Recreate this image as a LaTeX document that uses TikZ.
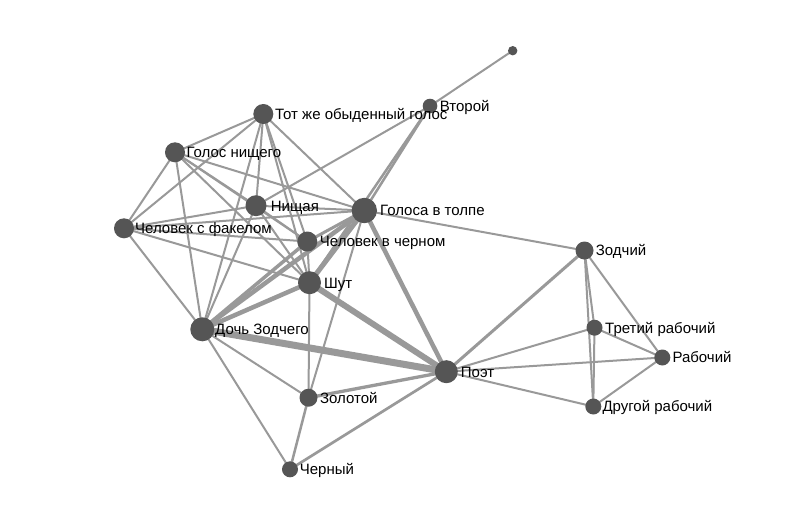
\documentclass[tikz,border=0pt]{standalone}
\usepackage{fontspec}
\setmainfont{Liberation Sans}
\pgfdeclarelayer{bg}
\pgfdeclarelayer{edges}
\pgfsetlayers{bg,edges,main}
\definecolor{edgegray}{RGB}{153,153,153}
\definecolor{nodegray}{RGB}{85,85,85}
\tikzset{
  pt/.style={circle,fill=nodegray,draw=none,inner sep=0pt,minimum size=#1},
  lbl/.style={anchor=west,inner sep=0pt,text height=10.7pt,text depth=0pt,
    font=\fontsize{15}{18}\selectfont,text=black},
  edge/.style={draw=edgegray,line width=#1},
  edge/.default=2pt
}
\begin{document}
\begin{tikzpicture}[x=1pt,y=-1pt]
\begin{pgfonlayer}{bg}
\fill[white] (0,0) rectangle (788,517);
\end{pgfonlayer}
\useasboundingbox (0,0) rectangle (788,517);
% nodes
\node[pt=9.4pt]  (x)     at (512.7,50.7) {};
\node[pt=14.6pt] (vtor)  at (430,106) {};
\node[pt=20pt]   (tot)   at (263.3,114) {};
\node[pt=20pt]   (gn)    at (175,152.3) {};
\node[pt=21pt]   (nish)  at (256,205.7) {};
\node[pt=25.4pt] (gol)   at (364.3,210.5) {};
\node[pt=20pt]   (fak)   at (124,228.3) {};
\node[pt=20pt]   (cher)  at (307.3,241.5) {};
\node[pt=23pt]   (shut)  at (309.5,282.7) {};
\node[pt=24pt]   (doch)  at (202.3,329.3) {};
\node[pt=23pt]   (poet)  at (446.3,371.7) {};
\node[pt=18pt]   (zol)   at (308.5,397.7) {};
\node[pt=16pt]   (chern) at (290,469.3) {};
\node[pt=18pt]   (zod)   at (584.5,250.5) {};
\node[pt=16pt]   (tret)  at (594.5,327.7) {};
\node[pt=16pt]   (rab)   at (662.3,357.5) {};
\node[pt=16pt]   (drug)  at (593.3,406.5) {};
% labels
\node[lbl] (vtor-l)  at ([xshift=9.7pt]vtor.center) {Второй};
\node[lbl] (tot-l)   at ([xshift=11.7pt]tot.center) {Тот же обыденный голос};
\node[lbl] (gn-l)    at ([xshift=11.3pt]gn.center) {Голос нищего};
\node[lbl] (nish-l)  at ([xshift=14.7pt]nish.center) {Нищая};
\node[lbl] (gol-l)   at ([xshift=15.7pt]gol.center) {Голоса в толпе};
\node[lbl] (fak-l)   at ([xshift=11pt]fak.center) {Человек с факелом};
\node[lbl] (cher-l)  at ([xshift=12.4pt]cher.center) {Человек в черном};
\node[lbl] (shut-l)  at ([xshift=14.5pt]shut.center) {Шут};
\node[lbl] (doch-l)  at ([xshift=12.7pt]doch.center) {Дочь Зодчего};
\node[lbl] (poet-l)  at ([xshift=14.4pt]poet.center) {Поэт};
\node[lbl] (zol-l)   at ([xshift=11.4pt]zol.center) {Золотой};
\node[lbl] (chern-l) at ([xshift=9.7pt]chern.center) {Черный};
\node[lbl] (zod-l)   at ([xshift=11.2pt]zod.center) {Зодчий};
\node[lbl] (tret-l)  at ([xshift=10.5pt]tret.center) {Третий рабочий};
\node[lbl] (rab-l)   at ([xshift=10pt]rab.center) {Рабочий};
\node[lbl] (drug-l)  at ([xshift=9pt]drug.center) {Другой рабочий};
% edges
\begin{pgfonlayer}{edges}
\draw[edge] (x.center) -- (vtor.center);
\draw[edge] (vtor.center) -- (nish.center);
\draw[edge=2.5pt] (vtor.center) -- (gol.center);
\draw[edge=2.5pt] (vtor.center) -- (shut.center);
\draw[edge] (tot.center) -- (gn.center);
\draw[edge] (tot.center) -- (fak.center);
\draw[edge] (tot.center) -- (nish.center);
\draw[edge] (tot.center) -- (doch.center);
\draw[edge] (tot.center) -- (cher.center);
\draw[edge] (tot.center) -- (shut.center);
\draw[edge] (tot.center) -- (gol.center);
\draw[edge] (gn.center) -- (fak.center);
\draw[edge] (gn.center) -- (nish.center);
\draw[edge] (gn.center) -- (cher.center);
\draw[edge] (gn.center) -- (shut.center);
\draw[edge] (gn.center) -- (gol.center);
\draw[edge] (gn.center) -- (doch.center);
\draw[edge] (fak.center) -- (nish.center);
\draw[edge] (fak.center) -- (gol.center);
\draw[edge] (fak.center) -- (cher.center);
\draw[edge] (fak.center) -- (shut.center);
\draw[edge] (fak.center) -- (doch.center);
\draw[edge] (nish.center) -- (gol.center);
\draw[edge] (nish.center) -- (cher.center);
\draw[edge] (nish.center) -- (shut.center);
\draw[edge] (nish.center) -- (doch.center);
\draw[edge=3pt] (cher.center) -- (gol.center);
\draw[edge] (cher.center) -- (shut.center);
\draw[edge=3.5pt] (cher.center) -- (doch.center);
\draw[edge=5pt] (gol.center) -- (shut.center);
\draw[edge=4.5pt] (gol.center) -- (doch.center);
\draw[edge=4.5pt] (gol.center) -- (poet.center);
\draw[edge] (gol.center) -- (zod.center);
\draw[edge] (gol.center) -- (zol.center);
\draw[edge=4.5pt] (shut.center) -- (doch.center);
\draw[edge=6pt] (shut.center) -- (poet.center);
\draw[edge] (shut.center) -- (zol.center);
\draw[edge=7pt] (doch.center) -- (poet.center);
\draw[edge] (doch.center) -- (zol.center);
\draw[edge] (doch.center) -- (chern.center);
\draw[edge=3.3pt] (poet.center) -- (zol.center);
\draw[edge=2.7pt] (poet.center) -- (chern.center);
\draw[edge=3pt] (poet.center) -- (zod.center);
\draw[edge] (poet.center) -- (tret.center);
\draw[edge] (poet.center) -- (rab.center);
\draw[edge] (poet.center) -- (drug.center);
\draw[edge=2.5pt] (zol.center) -- (chern.center);
\draw[edge] (zod.center) -- (tret.center);
\draw[edge] (zod.center) -- (rab.center);
\draw[edge] (zod.center) -- (drug.center);
\draw[edge] (tret.center) -- (rab.center);
\draw[edge] (tret.center) -- (drug.center);
\draw[edge] (rab.center) -- (drug.center);
\end{pgfonlayer}
\end{tikzpicture}
\end{document}
